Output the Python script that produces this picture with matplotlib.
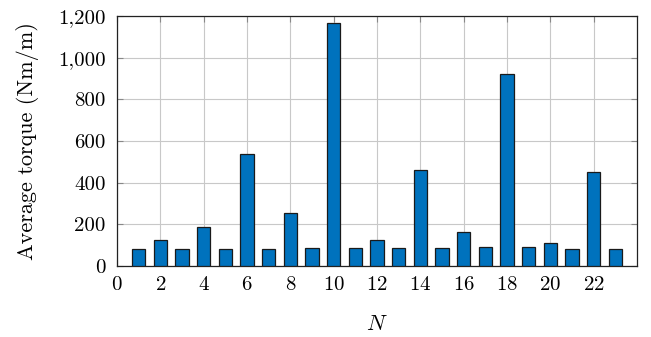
import matplotlib
matplotlib.use('Agg')
import matplotlib.pyplot as plt
from matplotlib.ticker import FuncFormatter

params = {
    'font.family': 'serif',
    'font.serif': ['cmr10'],
    'mathtext.fontset': 'cm',
    'axes.formatter.use_mathtext': True,
    'font.size': 16,
}
plt.rcParams.update(params)

N = list(range(1, 24))
torque = [83, 127, 83, 189, 83, 536, 83, 256, 85, 1166, 88, 123,
          86, 461, 85, 165, 91, 920, 89, 110, 83, 453, 82]

fig = plt.figure(figsize=(6.51, 3.37), dpi=100)
ax = fig.add_axes([0.1797, 0.2107, 0.9785 - 0.1797, 0.9525 - 0.2107])

ax.bar(N, torque, width=0.62, color='#0072BD', edgecolor='#1a1a1a', linewidth=0.9, zorder=3)

ax.set_xlim(0, 24)
ax.set_ylim(0, 1200)
ax.set_xticks(range(0, 23, 2))
ax.set_yticks(range(0, 1201, 200))
ax.yaxis.set_major_formatter(FuncFormatter(lambda v, p: '{:,.0f}'.format(v)))
ax.grid(True, color='#c8c8c8', linewidth=0.8, zorder=0)
ax.tick_params(direction='in', top=True, right=True, length=4, color='#888888', labelsize=15)
ax.tick_params(axis='x', pad=7)
ax.tick_params(axis='y', pad=8)
for s in ax.spines.values():
    s.set_linewidth(0.9)
    s.set_color('#222222')

ax.set_xlabel('$N$', labelpad=15, fontsize=16)
ax.set_ylabel('Average torque (Nm/m)', labelpad=14, fontsize=16)

fig.savefig('out.png', dpi=100)
